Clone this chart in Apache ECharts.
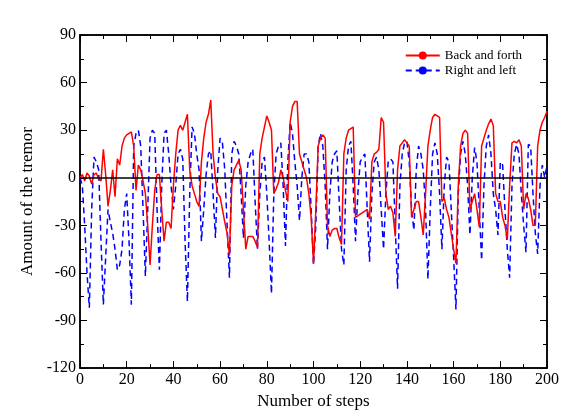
<!DOCTYPE html>
<html><head><meta charset="utf-8">
<script src="https://cdn.jsdelivr.net/npm/echarts@6/dist/echarts.min.js"></script>
<style>html,body{margin:0;padding:0;background:#fff}#c{width:587px;height:415px}</style>
</head><body><div id="c"></div>
<script>
const steps = Array.from({length:201},(_,i)=>i);
const backForth = [0,2,-2,3,1,-4,2,3,-1,-2,18,2,-18,-8,5,-12,12,8,20,25,27,28,29,20,-8,8,5,-2,-10,-30,-55,-30,-8,2,2,-20,-40,-28,-28,-32,-5,15,30,33,30,35,40,5,-5,-10,-15,-18,
10,25,35,40,49,15,0,-10,-12,-20,-28,-35,-49,-5,5,8,11,5,-20,-45,-37,-37,-37,-40,-44,15,25,32,39,35,30,-10,-7,-3,5,0,-8,-15,35,45,48,48,15,10,5,0,-10,-25,-54,-20,20,25,27,25,-30,-37,-33,-32,-32,-38,-42,15,25,30,31,32,-25,-24,-23,-22,-21,-20,-26,10,15,16,18,38,35,-10,-20,-18,-22,-37,5,20,22,24,22,20,-25,-20,-15,-15,-25,-36,-10,20,
30,38,40,39,38,-15,-13,-20,-25,-35,-45,-54,-5,20,28,30,28,-20,-15,-10,-20,-31,20,25,30,34,37,33,-10,-15,-15,-25,-30,-39,-5,22,23,22,24,20,-20,-10,-13,-20,-30,-30,20,30,35,38,42];
const rightLeft = [0,-5,-30,-60,-82,-20,13,10,5,-40,-80,-50,-20,-28,-35,-45,-58,-55,-45,-20,-10,-40,-80,20,28,30,20,-20,-62,-20,25,30,28,-20,-58,-5,28,30,15,-5,-20,-5,15,18,12,-40,-78,-10,32,28,15,5,-40,-20,2,15,17,-10,-38,5,25,22,5,-30,-63,15,23,20,15,-10,-38,-5,10,15,18,-15,-45,-10,10,13,-10,-40,-73,-10,15,20,22,-5,-43,10,35,28,10,-5,-27,0,15,15,10,-20,-55,-30,20,28,20,-5,-45,-10,10,15,17,-15,-45,-55,5,20,23,-5,-40,-10,10,13,15,-20,-53,-10,10,13,5,-20,-45,-10,10,12,10,-30,-70,-5,15,22,23,10,-20,-33,5,20,15,5,-20,-64,-20,15,22,15,-10,-45,-5,13,10,-20,-50,-83,-10,15,23,15,-5,-36,0,19,10,-20,-52,-5,20,27,15,-10,-20,-36,10,8,-20,-45,-63,-5,15,21,15,-10,-30,-47,21,20,-10,-35,-48,-5,8,0,8];
const seriesNames = ['Back and forth','Right and left'];
const xTicks = [0,20,40,60,80,100,120,140,160,180,200];
const yTicks = [-120,-90,-60,-30,0,30,60,90];

const font = 'Liberation Serif';
const ax = {axisLine:{show:true,onZero:false,lineStyle:{color:'#000',width:1.5}},
  axisTick:{show:true,inside:true,length:7,lineStyle:{color:'#000'}},
  minorTick:{show:true,splitNumber:2,length:4,lineStyle:{color:'#000'}},
  splitLine:{show:false}};
const chart = echarts.init(document.getElementById('c'));
chart.setOption({
  animation:false,
  grid:{left:80,right:40,top:35,bottom:45,show:true,borderColor:'#000',borderWidth:1.5},
  legend:{top:44,right:60,orient:'vertical',itemGap:2,itemWidth:34,itemHeight:10,
    textStyle:{fontFamily:font,fontSize:13,color:'#000'},
    data:seriesNames},
  xAxis:[Object.assign({type:'value',min:0,max:200,interval:20,name:'Number of steps',nameLocation:'middle',nameGap:17,
    nameTextStyle:{fontFamily:font,fontSize:17,color:'#000'},
    axisLabel:{fontFamily:font,fontSize:16,color:'#000',margin:4}},ax),
    Object.assign({type:'value',min:0,max:200,interval:20,position:'top',axisLabel:{show:false}},ax)],
  yAxis:[Object.assign({type:'value',min:-120,max:90,interval:30,name:'Amount of the tremor',nameLocation:'middle',nameGap:35,
    nameTextStyle:{fontFamily:font,fontSize:17,color:'#000'},
    axisLabel:{fontFamily:font,fontSize:16,color:'#000',margin:4}},ax),
    Object.assign({type:'value',min:-120,max:90,interval:30,position:'right',axisLabel:{show:false}},ax)],
  series:[
    {name:seriesNames[0],type:'line',symbol:'none',data:steps.map((s,i)=>[s,backForth[i]]),
     lineStyle:{color:'#ff0000',width:1.5},itemStyle:{color:'#ff0000'},z:3,
     markLine:{silent:true,symbol:'none',label:{show:false},lineStyle:{color:'#000',type:'solid',width:1.5},data:[{yAxis:0}]}},
    {name:seriesNames[1],type:'line',symbol:'none',data:steps.map((s,i)=>[s,rightLeft[i]]),
     lineStyle:{color:'#0000ff',width:1.5,type:[6,4]},itemStyle:{color:'#0000ff'},z:2}
  ]
});
</script></body></html>
